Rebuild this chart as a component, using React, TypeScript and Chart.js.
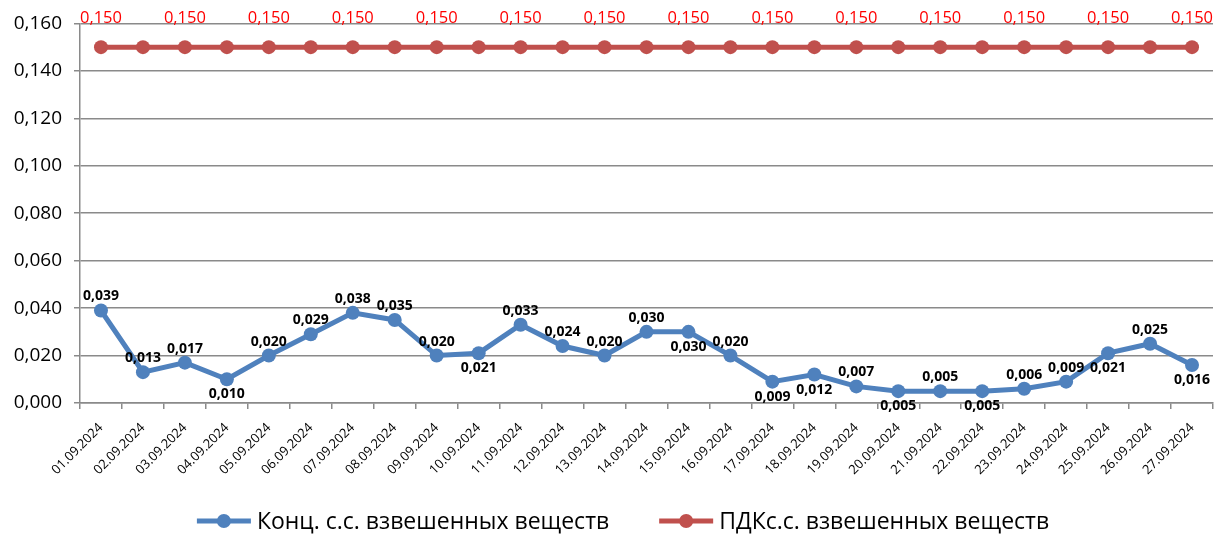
import React, { useEffect, useRef } from 'react';
import { Chart, registerables } from 'chart.js';

Chart.register(...registerables);

const dates = [
  '01.09.2024', '02.09.2024', '03.09.2024', '04.09.2024', '05.09.2024', '06.09.2024',
  '07.09.2024', '08.09.2024', '09.09.2024', '10.09.2024', '11.09.2024', '12.09.2024',
  '13.09.2024', '14.09.2024', '15.09.2024', '16.09.2024', '17.09.2024', '18.09.2024',
  '19.09.2024', '20.09.2024', '21.09.2024', '22.09.2024', '23.09.2024', '24.09.2024',
  '25.09.2024', '26.09.2024', '27.09.2024',
];

const concValues = [
  0.039, 0.013, 0.017, 0.010, 0.020, 0.029, 0.038, 0.035, 0.020, 0.021, 0.033, 0.024,
  0.020, 0.030, 0.030, 0.020, 0.009, 0.012, 0.007, 0.005, 0.005, 0.005, 0.006, 0.009,
  0.021, 0.025, 0.016,
];

const pdkValues = [
  0.150, 0.150, 0.150, 0.150, 0.150, 0.150, 0.150, 0.150, 0.150, 0.150, 0.150, 0.150,
  0.150, 0.150, 0.150, 0.150, 0.150, 0.150, 0.150, 0.150, 0.150, 0.150, 0.150, 0.150,
  0.150, 0.150, 0.150,
];

// label placement for the concentration series ('a' = above, 'b' = below)
const concLabelPos = [
  'a', 'a', 'a', 'b', 'a', 'a', 'a', 'a', 'a', 'b', 'a', 'a',
  'a', 'a', 'b', 'a', 'b', 'b', 'a', 'b', 'a', 'b', 'a', 'a',
  'b', 'a', 'b',
];

const seriesNames = ['Конц. с.с. взвешенных веществ', 'ПДКс.с. взвешенных веществ'];

const yMin = 0;
const yMax = 0.16;
const yStep = 0.02;

const BLUE = '#4F81BD';
const RED = '#C0504D';
const GRID = '#8a8a8a';
const FONT = '"Open Sans", "Liberation Sans", sans-serif';
const fmt = (v: number) => v.toFixed(3).replace('.', ',');

const valueLabelsPlugin = {
  id: 'valueLabels',
  afterDatasetsDraw(chart: any) {
    const ctx = chart.ctx;
    ctx.save();
    ctx.textAlign = 'center';
    ctx.textBaseline = 'middle';
    const m0 = chart.getDatasetMeta(0);
    ctx.font = `bold 14px ${FONT}`;
    ctx.fillStyle = '#000000';
    m0.data.forEach((pt: any, i: number) => {
      const dy = concLabelPos[i] === 'a' ? -14 : 15;
      ctx.fillText(fmt(concValues[i]), pt.x, pt.y + dy);
    });
    const m1 = chart.getDatasetMeta(1);
    ctx.font = `16.5px ${FONT}`;
    ctx.fillStyle = '#FF0000';
    m1.data.forEach((pt: any, i: number) => {
      if (i % 2 === 0) ctx.fillText(fmt(pdkValues[i]), pt.x, pt.y - 29);
    });
    ctx.restore();
  },
};

const legendPlugin = {
  id: 'customLegend',
  afterDraw(chart: any) {
    const ctx = chart.ctx;
    const colors = [BLUE, RED];
    ctx.save();
    ctx.font = `23px ${FONT}`;
    ctx.textBaseline = 'middle';
    ctx.textAlign = 'left';
    const lineW = 54;
    const gapText = 6;
    const gapItems = 50;
    const widths = seriesNames.map((t) => lineW + gapText + ctx.measureText(t).width);
    const total = widths[0] + widths[1] + gapItems;
    let x = 623 - total / 2;
    const y = 521;
    seriesNames.forEach((t, i) => {
      ctx.strokeStyle = colors[i];
      ctx.lineWidth = 5;
      ctx.beginPath();
      ctx.moveTo(x, y);
      ctx.lineTo(x + lineW, y);
      ctx.stroke();
      ctx.fillStyle = colors[i];
      ctx.beginPath();
      ctx.arc(x + lineW / 2, y, 7, 0, Math.PI * 2);
      ctx.fill();
      ctx.fillStyle = '#000000';
      ctx.fillText(t, x + lineW + gapText, y + 1);
      x += widths[i] + gapItems;
    });
    ctx.restore();
  },
};

export default function App() {
  const ref = useRef<HTMLCanvasElement | null>(null);

  useEffect(() => {
    if (!ref.current) return;
    const chart = new Chart(ref.current, {
      type: 'line',
      data: {
        labels: dates,
        datasets: [
          {
            label: seriesNames[0],
            data: concValues,
            borderColor: BLUE,
            backgroundColor: BLUE,
            borderWidth: 5,
            pointRadius: 7,
            pointBackgroundColor: BLUE,
            pointBorderColor: BLUE,
            pointBorderWidth: 0,
            tension: 0,
            clip: false as any,
          },
          {
            label: seriesNames[1],
            data: pdkValues,
            borderColor: RED,
            backgroundColor: RED,
            borderWidth: 5,
            pointRadius: 7,
            pointBackgroundColor: RED,
            pointBorderColor: RED,
            pointBorderWidth: 0,
            tension: 0,
            clip: false as any,
          },
        ],
      },
      options: {
        animation: false,
        responsive: true,
        maintainAspectRatio: false,
        layout: { padding: { top: 22, right: 11, bottom: 60, left: 0 } },
        plugins: {
          legend: { display: false },
          tooltip: { enabled: false },
        },
        scales: {
          x: {
            type: 'category',
            offset: true,
            grid: {
              display: true,
              offset: true,
              drawOnChartArea: false,
              drawTicks: true,
              tickLength: 6,
              color: GRID,
              lineWidth: 1.5,
            },
            border: { display: true, color: GRID, width: 1.5 },
            ticks: {
              autoSkip: false,
              maxRotation: 45,
              minRotation: 45,
              padding: 11,
              color: '#000000',
              font: { family: FONT, size: 13 },
            },
            afterFit: (scale: any) => {
              scale.height = 72;
            },
          },
          y: {
            min: yMin,
            max: yMax,
            grid: {
              color: GRID,
              lineWidth: 1.5,
              drawTicks: true,
              tickLength: 6,
            },
            border: { display: true, color: GRID, width: 1.5 },
            ticks: {
              stepSize: yStep,
              padding: 12,
              color: '#000000',
              font: { family: FONT, size: 19 },
              callback: (v: any) => fmt(Number(v)),
            },
            afterFit: (scale: any) => {
              scale.width = 80;
            },
          },
        },
      },
      plugins: [valueLabelsPlugin, legendPlugin],
    });
    return () => chart.destroy();
  }, []);

  return (
    <div style={{ position: 'fixed', left: 0, top: 0, width: 1224, height: 535, background: '#ffffff' }}>
      <canvas ref={ref} />
    </div>
  );
}
